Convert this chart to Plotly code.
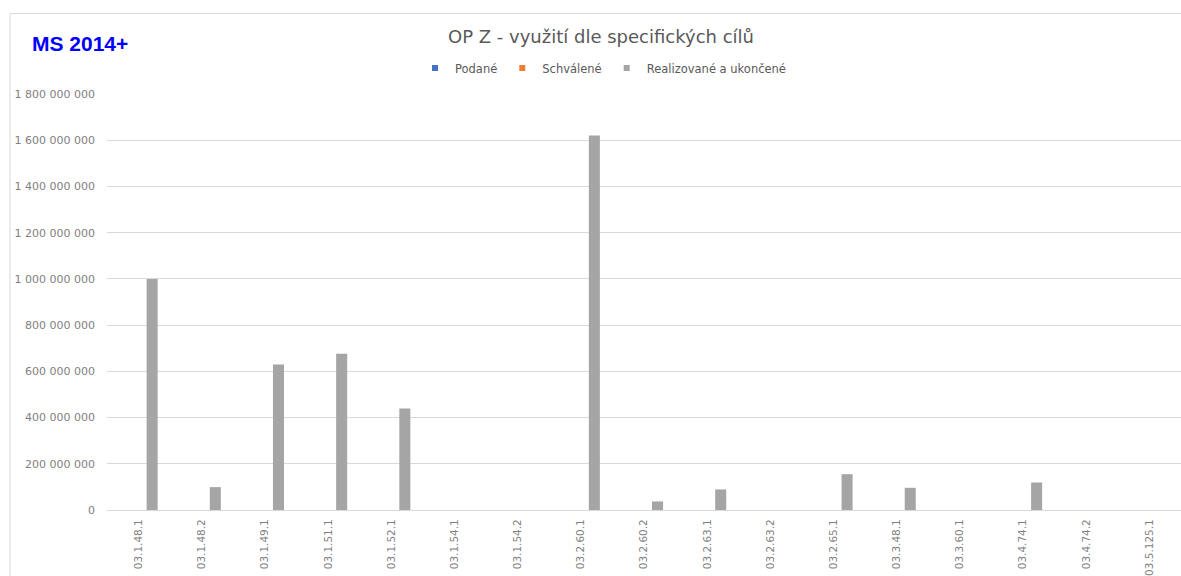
import plotly.graph_objects as go

categories = ["03.1.48.1", "03.1.48.2", "03.1.49.1", "03.1.51.1", "03.1.52.1",
              "03.1.54.1", "03.1.54.2", "03.2.60.1", "03.2.60.2", "03.2.63.1",
              "03.2.63.2", "03.2.65.1", "03.3.48.1", "03.3.60.1", "03.4.74.1",
              "03.4.74.2", "03.5.125.1"]
series_names = ["Podané", "Schválené", "Realizované a ukončené"]
series_colors = ["#4472C4", "#ED7D31", "#A5A5A5"]
podane = [0] * 17
schvalene = [0] * 17
realizovane = [1000000000, 99000000, 630000000, 676000000, 439000000,
               0, 0, 1620000000, 37000000, 89000000,
               0, 155000000, 96000000, 0, 119000000,
               0, 0]
y_ticks = [0, 200000000, 400000000, 600000000, 800000000, 1000000000,
           1200000000, 1400000000, 1600000000, 1800000000]

FONT = "DejaVu Sans, sans-serif"

fig = go.Figure()
for name, color, vals in zip(series_names, series_colors, [podane, schvalene, realizovane]):
    fig.add_trace(go.Bar(name=name, x=categories, y=vals, marker_color=color,
                         marker_line_width=0, showlegend=False, legendgroup=name))
for name, color in zip(series_names, series_colors):
    fig.add_trace(go.Scatter(name=name, x=[None], y=[None], mode="markers",
                             marker=dict(symbol="square", size=6, color=color),
                             legendgroup=name, showlegend=True))

L, T, B = 107, 94, 66
W, H = 1181, 576
pw = W - L
ph = H - T - B

def px_x(px):
    return (px - L) / pw

def px_y(py):
    return (H - B - py) / ph

fig.update_layout(
    width=W, height=H,
    margin=dict(l=L, r=0, t=T, b=B, pad=0, autoexpand=False),
    paper_bgcolor="white", plot_bgcolor="white",
    barmode="group", bargap=0.357, bargroupgap=0.185,
    separators=", ",
    font=dict(family=FONT, color="#7f7f7f", size=11),
    title=dict(text="OP Z - využití dle specifických cílů",
               x=601 / W, xanchor="center", xref="container",
               y=1 - 37 / H, yanchor="middle", yref="container",
               font=dict(family=FONT, size=18, color="#595959")),
    legend=dict(orientation="h", x=603 / W, xanchor="center", xref="container",
                y=1 - 68 / H, yanchor="middle", yref="container",
                font=dict(family=FONT, size=11.5, color="#595959"),
                itemwidth=30, tracegroupgap=0, bgcolor="rgba(0,0,0,0)"),
    showlegend=True,
    xaxis=dict(type="category", showgrid=False, showline=True, linecolor="#d9d9d9",
               linewidth=1, tickangle=-90, ticks="", tickfont=dict(size=10.5, color="#7f7f7f"),
               ticklabelstandoff=4, zeroline=False, automargin=False, fixedrange=True),
    yaxis=dict(range=[0, 1800000000], tickvals=y_ticks, tickformat=",d",
               showgrid=True, gridcolor="#d9d9d9", gridwidth=1, zeroline=False,
               showline=False, ticks="", ticklabelstandoff=11, automargin=False,
               fixedrange=True, tickfont=dict(size=11, color="#7f7f7f")),
    shapes=[dict(type="rect", xref="paper", yref="paper",
                 x0=px_x(10), x1=px_x(1200), y0=px_y(600), y1=px_y(13.5),
                 line=dict(color="#d9d9d9", width=1), fillcolor="rgba(0,0,0,0)",
                 layer="below")],
    annotations=[dict(text="<b>MS 2014+</b>", xref="paper", yref="paper",
                      x=px_x(30), y=px_y(43), xanchor="left", yanchor="middle",
                      showarrow=False,
                      font=dict(family="Liberation Sans, Arial, sans-serif",
                                size=21, color="#0000FF"))],
)

fig.write_html("out.html", config={"displayModeBar": False},
               post_script="document.body.style.margin='0px';")
